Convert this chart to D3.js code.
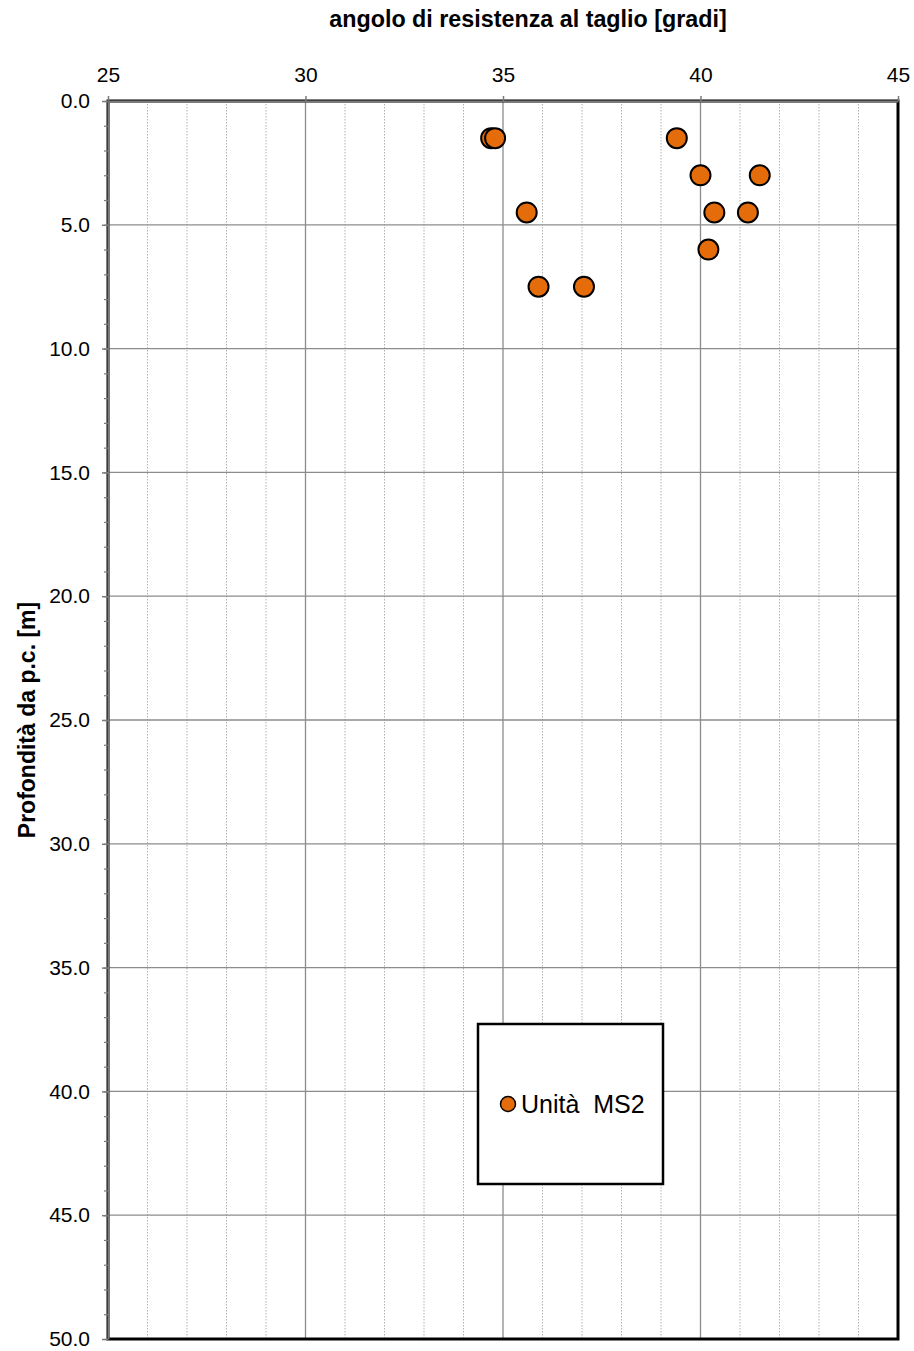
<!DOCTYPE html>
<html>
<head>
<meta charset="utf-8">
<script src="https://cdn.jsdelivr.net/npm/d3@7"></script>
<style>
  html, body { margin: 0; padding: 0; background: #fff; }
  svg { display: block; font-family: "Liberation Sans", Arial, sans-serif; }
</style>
</head>
<body>
<svg id="chart" width="914" height="1351"></svg>
<script>
// Angolo di resistenza al taglio (gradi) vs profondità (m)
const phiValues   = [34.7, 34.8, 39.4, 40.0, 41.5, 35.6, 40.35, 41.2, 40.2, 35.9, 37.05];
const depthValues = [1.5,  1.5,  1.5,  3.0,  3.0,  4.5,  4.5,   4.5,  6.0,  7.5,  7.5];
const xTicks = [25, 30, 35, 40, 45];
const yTicks = [0, 5, 10, 15, 20, 25, 30, 35, 40, 45, 50];
const seriesName = "Unità  MS2";

const svg = d3.select("#chart");
const plotL = 108, plotR = 898, plotT = 101, plotB = 1339;

const x = d3.scaleLinear().domain([25, 45]).range([plotL, plotR]);
const y = d3.scaleLinear().domain([0, 50]).range([plotT, plotB]);

const g = svg.append("g");

// minor vertical gridlines (every 1 degree)
const minorX = d3.range(26, 45).filter(v => v % 5 !== 0);
g.selectAll(".minx").data(minorX).join("line")
  .attr("x1", d => x(d)).attr("x2", d => x(d))
  .attr("y1", plotT).attr("y2", plotB)
  .attr("stroke", "#b0b0b0").attr("stroke-width", 1)
  .attr("stroke-dasharray", "1.5,1.5");

// major gridlines
g.selectAll(".majx").data(xTicks.slice(1, -1)).join("line")
  .attr("x1", d => x(d)).attr("x2", d => x(d))
  .attr("y1", plotT).attr("y2", plotB)
  .attr("stroke", "#8c8c8c").attr("stroke-width", 1.3);
g.selectAll(".majy").data(yTicks.slice(1, -1)).join("line")
  .attr("x1", plotL).attr("x2", plotR)
  .attr("y1", d => y(d)).attr("y2", d => y(d))
  .attr("stroke", "#8c8c8c").attr("stroke-width", 1.3);

// plot frame
g.append("rect")
  .attr("x", plotL).attr("y", plotT)
  .attr("width", plotR - plotL).attr("height", plotB - plotT)
  .attr("fill", "none").attr("stroke", "#000").attr("stroke-width", 3);

// top axis
const xAxis = d3.axisTop(x).tickValues(xTicks).tickSize(5).tickSizeOuter(0).tickFormat(d3.format("d"));
const gx = svg.append("g").attr("transform", `translate(0,${plotT})`).call(xAxis);
gx.select(".domain").attr("stroke", "#7a7a7a").attr("stroke-width", 2);
gx.selectAll(".tick line").attr("stroke", "#7a7a7a").attr("stroke-width", 1.5);
gx.selectAll(".tick text").attr("font-size", 21).attr("fill", "#000")
  .attr("font-family", "'Liberation Sans', Arial, sans-serif")
  .attr("y", -19).attr("dy", 0);

// left axis with minor ticks
const yAxisMinor = d3.axisLeft(y).tickValues(d3.range(0, 51, 1)).tickSize(4).tickFormat("");
svg.append("g").attr("transform", `translate(${plotL},0)`).call(yAxisMinor)
  .call(s => s.select(".domain").remove())
  .selectAll(".tick line").attr("stroke", "#7a7a7a").attr("stroke-width", 1.2);

const yAxis = d3.axisLeft(y).tickValues(yTicks).tickSize(6).tickSizeOuter(0).tickFormat(d3.format(".1f"));
const gy = svg.append("g").attr("transform", `translate(${plotL},0)`).call(yAxis);
gy.select(".domain").attr("stroke", "#7a7a7a").attr("stroke-width", 2);
gy.selectAll(".tick line").attr("stroke", "#7a7a7a").attr("stroke-width", 1.5);
gy.selectAll(".tick text").attr("font-size", 21).attr("fill", "#000")
  .attr("font-family", "'Liberation Sans', Arial, sans-serif").attr("x", -18);

// axis titles
svg.append("text")
  .attr("x", 528).attr("y", 27)
  .attr("text-anchor", "middle")
  .attr("font-size", 23.3).attr("font-weight", "bold")
  .text("angolo di resistenza al taglio [gradi]");

svg.append("text")
  .attr("transform", `translate(35,${(plotT + plotB) / 2}) rotate(-90)`)
  .attr("text-anchor", "middle")
  .attr("font-size", 23).attr("font-weight", "bold")
  .text("Profondità da p.c. [m]");

// data points
const pts = phiValues.map((v, i) => ({ phi: v, depth: depthValues[i] }));
svg.append("g").selectAll("circle").data(pts).join("circle")
  .attr("cx", d => x(d.phi)).attr("cy", d => y(d.depth))
  .attr("r", 10)
  .attr("fill", "#E46C0A").attr("stroke", "#000").attr("stroke-width", 2);

// legend
const lg = svg.append("g");
lg.append("rect")
  .attr("x", 478).attr("y", 1024).attr("width", 185).attr("height", 160)
  .attr("fill", "#fff").attr("stroke", "#000").attr("stroke-width", 2.5);
lg.append("circle")
  .attr("cx", 508).attr("cy", 1104).attr("r", 7.5)
  .attr("fill", "#E46C0A").attr("stroke", "#000").attr("stroke-width", 1.5);
lg.append("text")
  .attr("x", 521).attr("y", 1113)
  .attr("font-size", 25)
  .attr("xml:space", "preserve")
  .style("white-space", "pre")
  .text(seriesName);
</script>
</body>
</html>
